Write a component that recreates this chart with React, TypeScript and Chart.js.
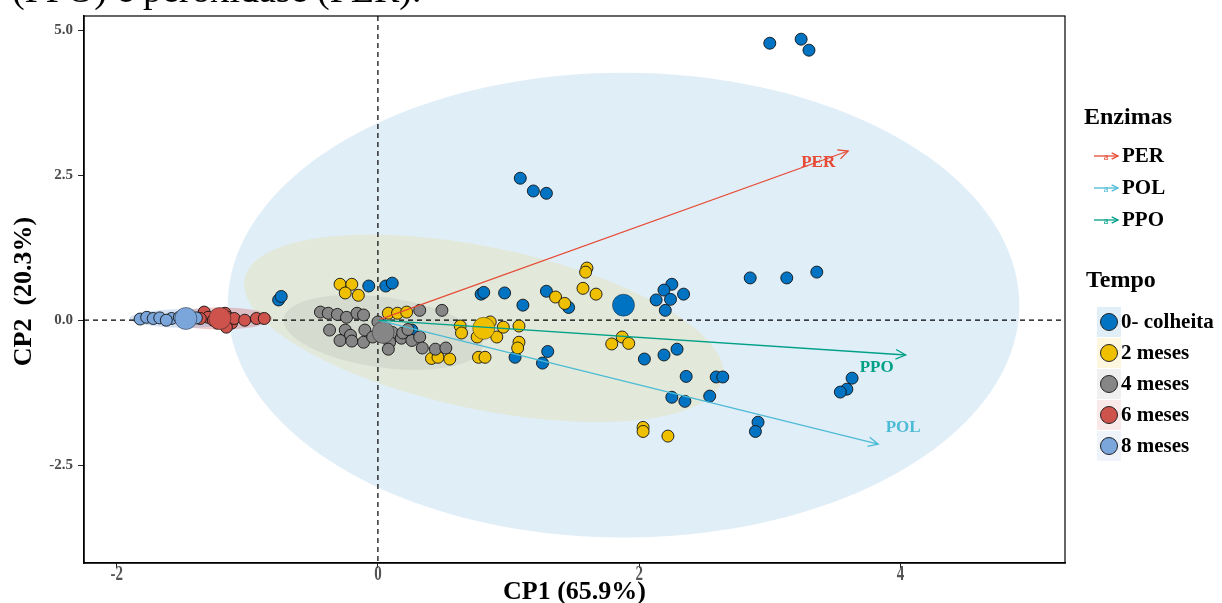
import React, { useEffect, useRef } from 'react';
import { Chart, registerables } from 'chart.js';

Chart.register(...registerables);

const SERIF = '"Liberation Serif", "Times New Roman", serif';

// ---------- data ----------
const groupNames = ['0- colheita', '2 meses', '4 meses', '6 meses', '8 meses'];
const groupColors = ['#0073C2', '#EFC000', '#868686', '#CD534C', '#7AA6DC'];

const colheitaX = [3.00, 3.24, 3.30, 1.09, 1.19, 1.29, 0.79, 0.81, 0.97, 1.11, 1.29, 1.46, 1.30, 1.05, 1.26, 2.25, 2.19, 2.13, 2.24, 2.34, 2.20, 2.85, 3.13, 3.36, 2.04, 2.19, 2.29, 2.36, 2.59, 2.64, 2.25, 2.35, 2.54, 2.91, 2.89, 3.63, 3.59, 3.54, -0.07, 0.06, 0.11, -0.76, -0.74, 0.26];
const colheitaY = [4.78, 4.85, 4.66, 2.45, 2.23, 2.19, 0.45, 0.48, 0.47, 0.26, 0.50, 0.22, -0.54, -0.64, -0.74, 0.62, 0.52, 0.35, 0.36, 0.45, 0.17, 0.73, 0.73, 0.83, -0.67, -0.60, -0.50, -0.97, -0.98, -0.98, -1.33, -1.40, -1.31, -1.76, -1.92, -1.00, -1.19, -1.24, 0.59, 0.59, 0.64, 0.35, 0.41, -0.17];

const meses2X = [-0.29, -0.20, -0.25, -0.15, 0.08, 0.15, 0.22, 0.41, 0.46, 0.55, 0.77, 0.82, 0.63, 0.64, 0.76, 0.86, 0.91, 0.96, 1.08, 1.08, 1.07, 1.60, 1.59, 1.57, 1.67, 1.36, 1.43, 1.79, 1.87, 1.92, 2.03, 2.03, 2.22];
const meses2Y = [0.62, 0.62, 0.47, 0.43, 0.12, 0.12, 0.14, -0.66, -0.64, -0.67, -0.64, -0.64, -0.10, -0.22, -0.29, -0.03, -0.29, -0.12, -0.10, -0.38, -0.48, 0.90, 0.83, 0.55, 0.45, 0.40, 0.29, -0.41, -0.29, -0.40, -1.85, -1.92, -2.00];

const meses4X = [-0.44, -0.38, -0.31, -0.24, -0.16, -0.11, -0.25, -0.21, -0.29, -0.20, -0.10, -0.11, -0.04, 0.11, 0.09, 0.08, 0.18, 0.26, 0.32, 0.34, 0.44, 0.52, 0.32, 0.49, 0.00, 0.19, -0.37, 0.23];
const meses4Y = [0.14, 0.12, 0.10, 0.05, 0.12, 0.09, -0.17, -0.26, -0.35, -0.36, -0.17, -0.38, -0.29, -0.21, -0.38, -0.50, -0.31, -0.35, -0.29, -0.48, -0.50, -0.48, 0.17, 0.17, -0.03, -0.22, -0.17, -0.16];

const meses6X = [-1.33, -1.30, -1.26, -1.21, -1.17, -1.15, -1.12, -1.16, -1.10, -0.93, -0.87, -1.23, -1.36, -1.02];
const meses6Y = [0.14, 0.05, 0.00, 0.09, 0.12, 0.05, -0.05, -0.12, 0.03, 0.03, 0.03, -0.05, 0.03, 0.00];

const meses8X = [-1.82, -1.77, -1.72, -1.67, -1.58, -1.52, -1.44, -1.39, -1.62];
const meses8Y = [0.02, 0.05, 0.03, 0.04, 0.03, 0.05, 0.02, 0.04, 0.00];

// group means
const meanX = [1.88, 0.81, 0.04, -1.21, -1.47];
const meanY = [0.26, -0.14, -0.21, 0.03, 0.03];

// concentration ellipses: semi-axis vectors (data units)
const ellipseUX = [3.03, 1.83, 0.76, 0.40, 0.43];
const ellipseUY = [0.0, -0.86, -0.24, 0.0, 0.0];
const ellipseVX = [0.0, -0.126, -0.037, 0.0, 0.0];
const ellipseVY = [4.01, -1.37, -0.60, 0.19, 0.16];

// variable loadings (arrows)
const enzymeNames = ['PER', 'POL', 'PPO'];
const enzymeX = [3.60, 3.83, 4.04];
const enzymeY = [2.92, -2.14, -0.60];
const enzymeColors = ['#E64B35', '#4DBBD5', '#00A087'];

const xTicks = [-2, 0, 2, 4];
const yTicks = [-2.5, 0, 2.5, 5];
const X_MIN = -2.25, X_MAX = 5.26, Y_MIN = -4.19, Y_MAX = 5.25;

// ---------- style ----------
const ellipseAlpha = [0.12, 0.12, 0.14, 0.3, 0.32];
const labelOffsets = [[-30, 12], [25, -17], [-29, 13]];

function hexA(hex: string, a: number) {
  const n = parseInt(hex.slice(1), 16);
  return `rgba(${(n >> 16) & 255},${(n >> 8) & 255},${n & 255},${a})`;
}

function openHead(ctx: CanvasRenderingContext2D, x: number, y: number, ang: number, len: number) {
  const a1 = ang + Math.PI - 0.45;
  const a2 = ang + Math.PI + 0.45;
  ctx.beginPath();
  ctx.moveTo(x + len * Math.cos(a1), y + len * Math.sin(a1));
  ctx.lineTo(x, y);
  ctx.lineTo(x + len * Math.cos(a2), y + len * Math.sin(a2));
  ctx.stroke();
}

const underlayPlugin = {
  id: 'underlay',
  beforeDatasetsDraw(chart: any) {
    const { ctx, chartArea: ca, scales } = chart;
    const xs = scales.x, ys = scales.y;
    ctx.save();
    ctx.beginPath();
    ctx.rect(ca.left, ca.top, ca.right - ca.left, ca.bottom - ca.top);
    ctx.clip();
    for (let g = 0; g < groupNames.length; g++) {
      ctx.beginPath();
      for (let i = 0; i <= 180; i++) {
        const t = (i / 180) * Math.PI * 2;
        const dx = meanX[g] + ellipseUX[g] * Math.cos(t) + ellipseVX[g] * Math.sin(t);
        const dy = meanY[g] + ellipseUY[g] * Math.cos(t) + ellipseVY[g] * Math.sin(t);
        const px = xs.getPixelForValue(dx), py = ys.getPixelForValue(dy);
        if (i === 0) ctx.moveTo(px, py); else ctx.lineTo(px, py);
      }
      ctx.closePath();
      ctx.fillStyle = hexA(groupColors[g], ellipseAlpha[g]);
      ctx.fill();
    }
    // dashed zero lines
    ctx.strokeStyle = '#000';
    ctx.lineWidth = 1.2;
    ctx.setLineDash([5, 4]);
    const x0 = xs.getPixelForValue(0), y0 = ys.getPixelForValue(0);
    ctx.beginPath();
    ctx.moveTo(x0, ca.top); ctx.lineTo(x0, ca.bottom);
    ctx.moveTo(ca.left, y0); ctx.lineTo(ca.right, y0);
    ctx.stroke();
    ctx.restore();
  },
};

const overlayPlugin = {
  id: 'overlay',
  afterDatasetsDraw(chart: any) {
    const { ctx, chartArea: ca, scales } = chart;
    const xs = scales.x, ys = scales.y;
    const x0 = xs.getPixelForValue(0), y0 = ys.getPixelForValue(0);
    ctx.save();
    for (let i = 0; i < enzymeNames.length; i++) {
      const tx = xs.getPixelForValue(enzymeX[i]);
      const ty = ys.getPixelForValue(enzymeY[i]);
      ctx.strokeStyle = enzymeColors[i];
      ctx.lineWidth = 1.3;
      ctx.beginPath();
      ctx.moveTo(x0, y0);
      ctx.lineTo(tx, ty);
      ctx.stroke();
      openHead(ctx, tx, ty, Math.atan2(ty - y0, tx - x0), 11);
      ctx.fillStyle = enzymeColors[i];
      ctx.font = `bold 17px ${SERIF}`;
      ctx.textAlign = 'center';
      ctx.textBaseline = 'middle';
      ctx.fillText(enzymeNames[i], tx + labelOffsets[i][0], ty + labelOffsets[i][1]);
    }
    // panel border
    ctx.strokeStyle = '#000';
    ctx.lineWidth = 1.2;
    ctx.strokeRect(ca.left, ca.top, ca.right - ca.left, ca.bottom - ca.top);
    ctx.restore();
  },
  afterDraw(chart: any) {
    const { ctx, chartArea: ca, scales } = chart;
    ctx.save();
    // cropped caption from the page above
    ctx.fillStyle = '#000';
    ctx.font = `38px ${SERIF}`;
    ctx.textAlign = 'left';
    ctx.textBaseline = 'alphabetic';
    ctx.fillText('(PPO) e peroxidase (PER).', 12, 2);

    // x tick labels (narrow, tall glyphs as in the reference)
    ctx.fillStyle = '#555';
    ctx.font = `bold 15px ${SERIF}`;
    ctx.textAlign = 'center';
    ctx.textBaseline = 'middle';
    for (const v of xTicks) {
      const px = scales.x.getPixelForValue(v);
      ctx.save();
      ctx.translate(px, 575);
      ctx.scale(1, 1.4);
      ctx.fillText(String(v), 0, 0);
      ctx.restore();
    }

    // axis titles
    ctx.fillStyle = '#000';
    ctx.font = `bold 26px ${SERIF}`;
    ctx.textAlign = 'center';
    ctx.textBaseline = 'middle';
    ctx.fillText('CP1 (65.9%)', (ca.left + ca.right) / 2, 592);
    ctx.save();
    ctx.translate(24, (ca.top + ca.bottom) / 2 + 2);
    ctx.rotate(-Math.PI / 2);
    ctx.fillText('CP2  (20.3%)', 0, 0);
    ctx.restore();

    // legend: Enzimas
    ctx.textAlign = 'left';
    ctx.font = `bold 24px ${SERIF}`;
    ctx.fillStyle = '#000';
    ctx.fillText('Enzimas', 1084, 118);
    for (let i = 0; i < enzymeNames.length; i++) {
      const y = 156 + 32 * i;
      ctx.strokeStyle = enzymeColors[i];
      ctx.lineWidth = 1.3;
      ctx.beginPath();
      ctx.moveTo(1094, y);
      ctx.lineTo(1118, y);
      ctx.stroke();
      openHead(ctx, 1118, y, 0, 7);
      ctx.fillStyle = enzymeColors[i];
      ctx.font = `11px ${SERIF}`;
      ctx.textAlign = 'center';
      ctx.fillText('a', 1106, y + 1);
      ctx.fillStyle = '#000';
      ctx.textAlign = 'left';
      ctx.font = `bold 21px ${SERIF}`;
      ctx.fillText(enzymeNames[i], 1122, y + 1);
    }

    // legend: Tempo
    ctx.font = `bold 24px ${SERIF}`;
    ctx.fillStyle = '#000';
    ctx.fillText('Tempo', 1086, 281);
    for (let g = 0; g < groupNames.length; g++) {
      const y = 322 + 31 * g;
      ctx.fillStyle = hexA(groupColors[g], 0.12);
      ctx.fillRect(1097, y - 15, 24, 30);
      ctx.beginPath();
      ctx.arc(1109, y, 8.5, 0, Math.PI * 2);
      ctx.fillStyle = groupColors[g];
      ctx.fill();
      ctx.strokeStyle = '#222';
      ctx.lineWidth = 1;
      ctx.stroke();
      ctx.fillStyle = '#000';
      ctx.font = `bold 21px ${SERIF}`;
      ctx.fillText(groupNames[g], 1121, y + 1);
    }
    ctx.restore();
  },
};

function pts(xs: number[], ys: number[]) {
  return xs.map((x, i) => ({ x, y: ys[i] }));
}

export default function App() {
  const ref = useRef<HTMLCanvasElement | null>(null);
  useEffect(() => {
    if (!ref.current) return;
    const groupsX = [colheitaX, meses2X, meses4X, meses6X, meses8X];
    const groupsY = [colheitaY, meses2Y, meses4Y, meses6Y, meses8Y];
    const datasets: any[] = groupNames.map((name, g) => ({
      label: name,
      data: pts(groupsX[g], groupsY[g]),
      backgroundColor: groupColors[g],
      borderColor: 'rgba(20,20,20,0.9)',
      borderWidth: 1,
      pointRadius: 6,
      order: 5 - g + 1,
    }));
    datasets.push({
      label: 'means',
      data: pts(meanX, meanY),
      backgroundColor: groupColors,
      borderColor: 'rgba(30,30,30,0.6)',
      borderWidth: 0.8,
      pointRadius: 11,
      order: 0,
    });
    const chart = new Chart(ref.current, {
      type: 'scatter',
      data: { datasets },
      options: {
        animation: false,
        responsive: false,
        events: [],
        layout: { padding: { left: 0, top: 16, right: 157, bottom: 0 } },
        plugins: { legend: { display: false }, tooltip: { enabled: false } },
        scales: {
          x: {
            type: 'linear',
            min: X_MIN,
            max: X_MAX,
            afterBuildTicks: (s: any) => { s.ticks = xTicks.map((v) => ({ value: v })); },
            afterFit: (s: any) => { s.height = 40; },
            grid: { drawOnChartArea: false, drawTicks: true, tickLength: 5, color: '#222', lineWidth: 1 },
            border: { display: true, color: '#000', width: 1.5 },
            ticks: { display: false },
          },
          y: {
            type: 'linear',
            min: Y_MIN,
            max: Y_MAX,
            afterBuildTicks: (s: any) => { s.ticks = yTicks.map((v) => ({ value: v })); },
            afterFit: (s: any) => { s.width = 84; },
            grid: { drawOnChartArea: false, drawTicks: true, tickLength: 6, color: '#222', lineWidth: 1 },
            border: { display: true, color: '#000', width: 1.5 },
            ticks: {
              padding: 5,
              color: '#4a4a4a',
              font: { family: SERIF, size: 15, weight: 'bold' },
              callback: (v: any) => Number(v).toFixed(1),
            },
          },
        },
      },
      plugins: [underlayPlugin, overlayPlugin],
    });
    return () => chart.destroy();
  }, []);
  return (
    <div style={{ position: 'fixed', left: 0, top: 0, width: 1222, height: 603, background: '#fff' }}>
      <canvas ref={ref} width={1222} height={603} style={{ width: 1222, height: 603, display: 'block' }} />
    </div>
  );
}
